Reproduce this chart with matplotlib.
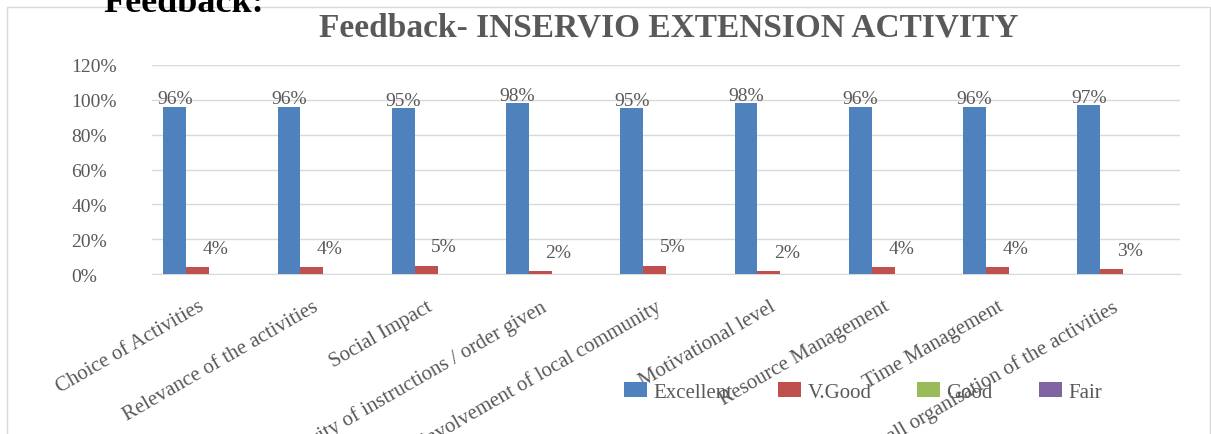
import matplotlib
matplotlib.use("Agg")
import matplotlib.pyplot as plt
import matplotlib.ticker as mtick
import matplotlib.transforms as mtrans
from matplotlib.patches import Rectangle
import numpy as np

# Data
categories = [
    "Choice of Activities",
    "Relevance of the activities",
    "Social Impact",
    "Clarity of instructions / order given",
    "Involvement of local community",
    "Motivational level",
    "Resource Management",
    "Time Management",
    "Overall organisation of the activities",
]
excellent = [0.96, 0.96, 0.95, 0.98, 0.95, 0.98, 0.96, 0.96, 0.97]
vgood = [0.04, 0.04, 0.05, 0.02, 0.05, 0.02, 0.04, 0.04, 0.03]
good = [0, 0, 0, 0, 0, 0, 0, 0, 0]
fair = [0, 0, 0, 0, 0, 0, 0, 0, 0]
series_names = ["Excellent", "V.Good", "Good", "Fair"]
y_ticks = [0, 0.2, 0.4, 0.6, 0.8, 1.0, 1.2]

BLUE = "#4F81BD"
RED = "#C0504D"
GREEN = "#9BBB59"
PURPLE = "#8064A2"
TEXT = "#595959"
GRID = "#D9D9D9"
SERIF = ["Liberation Serif", "DejaVu Serif"]

plt.rcParams["font.family"] = SERIF

fig = plt.figure(figsize=(12.11, 4.35), dpi=100)
ax = fig.add_axes([0.1255, 0.367, 0.849, 0.482])

x = np.arange(len(categories))
w = 0.2
series = [excellent, vgood, good, fair]
colors = [BLUE, RED, GREEN, PURPLE]
bars = []
for i, (vals, col, name) in enumerate(zip(series, colors, series_names)):
    b = ax.bar(x + (i - 1.5) * w, vals, width=w, color=col, label=name,
               edgecolor="none", zorder=3)
    bars.append(b)

# data labels
for rect, v in zip(bars[0], excellent):
    ax.annotate(f"{v*100:.0f}%", (rect.get_x() + rect.get_width() / 2, v),
                xytext=(0, 5.5), textcoords="offset points",
                ha="center", va="center", fontsize=14, color=TEXT, zorder=4)
for rect, v in zip(bars[1], vgood):
    ax.annotate(f"{v*100:.0f}%", (rect.get_x() + rect.get_width() / 2, v),
                xytext=(13, 13.5), textcoords="offset points",
                ha="center", va="center", fontsize=14, color=TEXT, zorder=4)

ax.set_xlim(-0.5, len(categories) - 0.5)
ax.set_ylim(0, 1.2)
ax.set_yticks(y_ticks)
ax.yaxis.set_major_formatter(mtick.PercentFormatter(xmax=1, decimals=0))
ax.yaxis.grid(True, color=GRID, linewidth=1.0, zorder=0)
ax.set_axisbelow(True)
for s in ["top", "right", "left"]:
    ax.spines[s].set_visible(False)
ax.spines["bottom"].set_color(GRID)
ax.tick_params(axis="y", length=0, pad=58, labelsize=14, labelcolor=TEXT)
for lab in ax.get_yticklabels():
    lab.set_horizontalalignment("left")

ax.set_xticks(x)
ax.set_xticklabels(categories, rotation=30, ha="right", va="top",
                   rotation_mode="anchor", fontsize=15, color=TEXT)
ax.tick_params(axis="x", length=0, pad=16)
shift = mtrans.ScaledTranslation(-8 / 72, 0, fig.dpi_scale_trans)
for lab in ax.get_xticklabels():
    lab.set_transform(lab.get_transform() + shift)

fig.text(0.552, 0.936, "Feedback- INSERVIO EXTENSION ACTIVITY",
         ha="center", va="center", fontsize=24, fontweight="bold", color=TEXT)

# partially cut-off heading above the chart frame
fig.text(0.085, 1 - 12 / 435, "Feedback:", ha="left", va="baseline",
         fontsize=26, fontweight="bold", color="black")

leg = fig.legend(handles=bars, labels=series_names, loc="center",
                 bbox_to_anchor=(0.7126, 0.0966), ncol=4, frameon=False,
                 fontsize=15, handlelength=1.1, handleheight=0.75,
                 handletextpad=0.3, columnspacing=2.2)
for t in leg.get_texts():
    t.set_color(TEXT)

# chart area frame
fig.add_artist(Rectangle((7 / 1211, -0.05), 1203 / 1211, 1 - 8 / 435 + 0.05,
                         transform=fig.transFigure, fill=False,
                         edgecolor=GRID, linewidth=1.0))

fig.savefig("out.png", dpi=100, facecolor="white")
